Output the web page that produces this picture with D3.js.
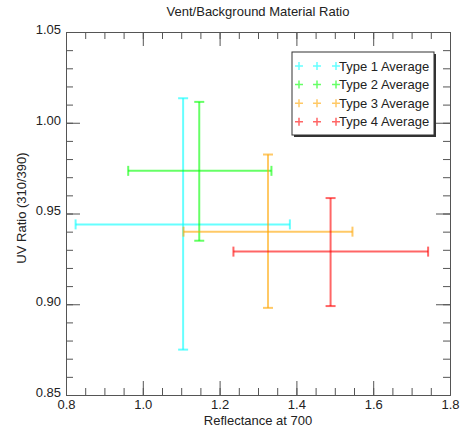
<!DOCTYPE html>
<html>
<head>
<meta charset="utf-8">
<script src="https://cdn.jsdelivr.net/npm/d3@7"></script>
<style>
  body { margin: 0; background: #fff; }
  text { font-family: "Liberation Sans", Arial, sans-serif; fill: #222; }
</style>
</head>
<body>
<script>
const w = 460;
const h = 428;
const margin = {top: 32, right: 10, bottom: 33, left: 66};

// data
const types = ["Type 1 Average", "Type 2 Average", "Type 3 Average", "Type 4 Average"];
const colors = ["#00ffff", "#00ff00", "#ffa500", "#ff0000"];
const xMean = [1.105, 1.147, 1.326, 1.489];
const xLow = [0.825, 0.962, 1.106, 1.236];
const xHigh = [1.383, 1.335, 1.546, 1.743];
const yMean = [0.944, 0.9735, 0.940, 0.929];
const yLow = [0.875, 0.935, 0.898, 0.899];
const yHigh = [1.0135, 1.0115, 0.9825, 0.9585];

const xTicks = [0.8, 1.0, 1.2, 1.4, 1.6, 1.8];
const yTicks = [0.85, 0.90, 0.95, 1.00, 1.05];

const svg = d3.select("body")
    .append("svg")
    .attr("width", w)
    .attr("height", h);

const x = d3.scaleLinear()
    .domain([0.8, 1.8])
    .range([margin.left, w - margin.right]);

const y = d3.scaleLinear()
    .domain([0.85, 1.05])
    .range([h - margin.bottom, margin.top]);

const xMinor = d3.range(0.8, 1.8001, 0.05);
const yMinor = d3.range(0.85, 1.0501, 0.01);

// minor ticks on all 4 sides
function minorAxes() {
    svg.append("g").attr("transform", `translate(0,${y.range()[0]})`)
        .call(d3.axisBottom(x).tickValues(xMinor).tickFormat("").tickSize(-7).tickSizeOuter(0));
    svg.append("g").attr("transform", `translate(0,${y.range()[1]})`)
        .call(d3.axisTop(x).tickValues(xMinor).tickFormat("").tickSize(-7).tickSizeOuter(0));
    svg.append("g").attr("transform", `translate(${x.range()[0]},0)`)
        .call(d3.axisLeft(y).tickValues(yMinor).tickFormat("").tickSize(-7).tickSizeOuter(0));
    svg.append("g").attr("transform", `translate(${x.range()[1]},0)`)
        .call(d3.axisRight(y).tickValues(yMinor).tickFormat("").tickSize(-7).tickSizeOuter(0));
}
minorAxes();

// major ticks
const xAxis = svg.append("g").attr("transform", `translate(0,${y.range()[0]})`)
    .call(d3.axisBottom(x).tickValues(xTicks).tickFormat(d3.format(".1f")).tickSize(-14).tickSizeOuter(0));
xAxis.selectAll("text").attr("y", 5).attr("dy", "0.71em");
svg.append("g").attr("transform", `translate(0,${y.range()[1]})`)
    .call(d3.axisTop(x).tickValues(xTicks).tickFormat("").tickSize(-14).tickSizeOuter(0));
const yAxis = svg.append("g").attr("transform", `translate(${x.range()[0]},0)`)
    .call(d3.axisLeft(y).tickValues(yTicks).tickFormat(d3.format(".2f")).tickSize(-14).tickSizeOuter(0));
yAxis.selectAll("text").attr("x", -5).attr("dy", "0.1em");
svg.append("g").attr("transform", `translate(${x.range()[1]},0)`)
    .call(d3.axisRight(y).tickValues(yTicks).tickFormat("").tickSize(-14).tickSizeOuter(0));

svg.selectAll(".domain, .tick line").attr("stroke", "#555");
svg.selectAll(".tick text").style("font-size", "13px").attr("fill", "#222");

// titles
svg.append("text")
    .attr("x", 258).attr("y", 16)
    .attr("text-anchor", "middle")
    .style("font-size", "13px")
    .text("Vent/Background Material Ratio");

svg.append("text")
    .attr("x", 258).attr("y", 425)
    .attr("text-anchor", "middle")
    .style("font-size", "13px")
    .text("Reflectance at 700");

svg.append("text")
    .attr("transform", "translate(26,208) rotate(-90)")
    .attr("text-anchor", "middle")
    .style("font-size", "13px")
    .text("UV Ratio (310/390)");

// error bars
const cap = 5;
const bars = svg.append("g")
    .attr("stroke-width", 2)
    .attr("stroke-opacity", 0.6)
    .attr("fill", "none");

types.forEach(function (t, i) {
    const g = bars.append("g").attr("stroke", colors[i]);
    // horizontal
    g.append("line")
        .attr("x1", x(xLow[i])).attr("x2", x(xHigh[i]))
        .attr("y1", y(yMean[i])).attr("y2", y(yMean[i]));
    g.append("line")
        .attr("x1", x(xLow[i])).attr("x2", x(xLow[i]))
        .attr("y1", y(yMean[i]) - cap).attr("y2", y(yMean[i]) + cap);
    g.append("line")
        .attr("x1", x(xHigh[i])).attr("x2", x(xHigh[i]))
        .attr("y1", y(yMean[i]) - cap).attr("y2", y(yMean[i]) + cap);
    // vertical
    g.append("line")
        .attr("x1", x(xMean[i])).attr("x2", x(xMean[i]))
        .attr("y1", y(yLow[i])).attr("y2", y(yHigh[i]));
    g.append("line")
        .attr("x1", x(xMean[i]) - cap).attr("x2", x(xMean[i]) + cap)
        .attr("y1", y(yLow[i])).attr("y2", y(yLow[i]));
    g.append("line")
        .attr("x1", x(xMean[i]) - cap).attr("x2", x(xMean[i]) + cap)
        .attr("y1", y(yHigh[i])).attr("y2", y(yHigh[i]));
});

// legend
const lx = 292, ly = 52, lw = 142, lh = 83;
svg.append("rect")
    .attr("x", lx + 2).attr("y", ly + 2)
    .attr("width", lw).attr("height", lh)
    .attr("fill", "#333");
svg.append("rect")
    .attr("x", lx).attr("y", ly)
    .attr("width", lw).attr("height", lh)
    .attr("fill", "#fff")
    .attr("stroke", "#333");

const legend = svg.selectAll(".leg")
    .data(types)
    .enter()
    .append("g")
    .attr("class", "leg")
    .attr("transform", (d, i) => `translate(${lx},${ly + 14 + i * 18.6})`);

[3, 21, 40].forEach(function (px) {
    legend.append("path")
        .attr("d", `M${px},0h8M${px + 4},-4v8`)
        .attr("stroke", (d, i) => colors[i])
        .attr("stroke-opacity", 0.6)
        .attr("stroke-width", 1.5);
});

legend.append("text")
    .attr("x", 47)
    .attr("dy", "0.35em")
    .style("font-size", "13px")
    .text(d => d);
</script>
</body>
</html>
